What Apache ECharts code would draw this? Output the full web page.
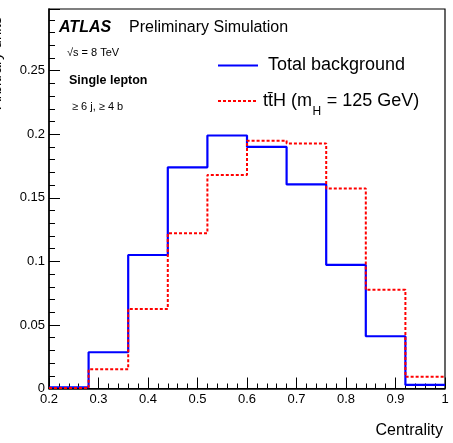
<!DOCTYPE html>
<html>
<head>
<meta charset="utf-8">
<script src="https://cdn.jsdelivr.net/npm/echarts@6/dist/echarts.min.js"></script>
<style>
html,body{margin:0;padding:0;background:#fff;}
#chart{width:453px;height:443px;}
</style>
</head>
<body>
<div id="chart"></div>
<script>
// Data
var binEdges = [0.2, 0.28, 0.36, 0.44, 0.52, 0.6, 0.68, 0.76, 0.84, 0.92, 1.0];
var totalBackground = [0.001, 0.0285, 0.105, 0.174, 0.199, 0.190, 0.1605, 0.0972, 0.0411, 0.0028];
var ttH = [0.0003, 0.0151, 0.0626, 0.1222, 0.168, 0.1949, 0.1928, 0.1573, 0.0776, 0.0093];
var xTickLabels = ['0.2','0.3','0.4','0.5','0.6','0.7','0.8','0.9','1'];
var yTickLabels = ['0','0.05','0.1','0.15','0.2','0.25'];

function histPoints(vals){
  var pts = [];
  for (var i = 0; i < vals.length; i++) pts.push([binEdges[i], vals[i]]);
  pts.push([binEdges[binEdges.length-1], vals[vals.length-1]]);
  return pts;
}

var FONT = '"Liberation Sans", Arial, Helvetica, sans-serif';
function measure(txt, size, weight){
  var c = document.createElement('canvas').getContext('2d');
  c.font = (weight||'normal') + ' ' + size + 'px ' + FONT;
  return c.measureText(txt).width;
}

var chart = echarts.init(document.getElementById('chart'), null, {renderer:'canvas'});

var legX = 263, legY2 = 101;
var p1 = 'tt\u0304H (m', p2 = 'H', p3 = ' = 125 GeV)';
var w1 = measure(p1, 18), w2 = measure(p2, 12);

var option = {
  animation: false,
  backgroundColor: '#fff',
  grid: {left: 49, right: 8, top: 9, bottom: 54.5, show: true, borderColor: '#000', borderWidth: 1.2, containLabel: false},
  xAxis: {
    type: 'value', min: 0.2, max: 1.0, interval: 0.1,
    axisLine: {show: true, lineStyle: {color: '#000', width: 1.5}},
    axisTick: {show: true, inside: true, length: 11, lineStyle: {color: '#000', width: 1}},
    minorTick: {show: true, splitNumber: 5, length: 5, lineStyle: {color: '#000', width: 1}},
    splitLine: {show: false},
    axisLabel: {color: '#000', fontFamily: FONT, fontSize: 13, margin: 4,
      formatter: function(v){ var i = Math.round((v-0.2)/0.1); return (Math.abs(v-(0.2+0.1*i))<1e-6 && xTickLabels[i]!==undefined) ? xTickLabels[i] : ''; }}
  },
  yAxis: {
    type: 'value', min: 0, max: 0.2985, interval: 0.05,
    axisLine: {show: true, lineStyle: {color: '#000', width: 1.5}},
    axisTick: {show: true, inside: true, length: 11, lineStyle: {color: '#000', width: 1}},
    minorTick: {show: true, splitNumber: 5, length: 6, lineStyle: {color: '#000', width: 1}},
    splitLine: {show: false},
    axisLabel: {color: '#000', fontFamily: FONT, fontSize: 13, margin: 4,
      formatter: function(v){ var i = Math.round(v/0.05); return (Math.abs(v-0.05*i)<1e-6 && yTickLabels[i]!==undefined) ? yTickLabels[i] : ''; }}
  },
  series: [
    {name: 'Total background', type: 'line', step: 'end', data: histPoints(totalBackground), symbol: 'none',
     lineStyle: {color: '#0000ff', width: 2.2}, z: 3},
    {name: 'ttH', type: 'line', step: 'end', data: histPoints(ttH), symbol: 'none',
     lineStyle: {color: '#ff0000', width: 2, type: [3, 2]}, z: 4}
  ],
  graphic: [
    {type: 'text', x: 59, y: 28, style: {text: 'ATLAS', font: 'italic bold 16px ' + FONT, fill: '#000', verticalAlign: 'middle'}},
    {type: 'text', x: 129, y: 28, style: {text: 'Preliminary Simulation', font: 'normal 16px ' + FONT, fill: '#000', verticalAlign: 'middle'}},
    {type: 'text', x: 67, y: 53, style: {text: '\u221As = 8 TeV', font: 'normal 11px ' + FONT, fill: '#000', verticalAlign: 'middle'}},
    {type: 'text', x: 69, y: 81, style: {text: 'Single lepton', font: 'bold 12.5px ' + FONT, fill: '#000', verticalAlign: 'middle'}},
    {type: 'text', x: 72, y: 107, style: {text: '\u2265 6 j, \u2265 4 b', font: 'normal 11px ' + FONT, fill: '#000', verticalAlign: 'middle'}},
    {type: 'line', shape: {x1: 218, y1: 65.5, x2: 258, y2: 65.5}, style: {stroke: '#0000ff', lineWidth: 2.2}},
    {type: 'text', x: 268, y: 65.5, style: {text: 'Total background', font: 'normal 18px ' + FONT, fill: '#000', verticalAlign: 'middle'}},
    {type: 'line', shape: {x1: 218, y1: legY2, x2: 258, y2: legY2}, style: {stroke: '#ff0000', lineWidth: 2, lineDash: [3, 2]}},
    {type: 'text', x: legX, y: legY2, style: {text: p1, font: 'normal 18px ' + FONT, fill: '#000', verticalAlign: 'middle'}},
    {type: 'text', x: legX + w1 + 0.5, y: legY2 + 11, style: {text: p2, font: 'normal 12px ' + FONT, fill: '#000', verticalAlign: 'middle'}},
    {type: 'text', x: legX + w1 + w2 + 1, y: legY2, style: {text: p3, font: 'normal 18px ' + FONT, fill: '#000', verticalAlign: 'middle'}},
    {type: 'text', x: 443, y: 431, style: {text: 'Centrality', font: 'normal 16px ' + FONT, fill: '#000', align: 'right', verticalAlign: 'middle'}},
    {type: 'text', x: 4, y: 63, rotation: Math.PI/2, style: {text: 'Arbitrary units', font: 'normal 15px ' + FONT, fill: '#000', align: 'center', verticalAlign: 'bottom'}}
  ]
};
chart.setOption(option);
</script>
</body>
</html>
